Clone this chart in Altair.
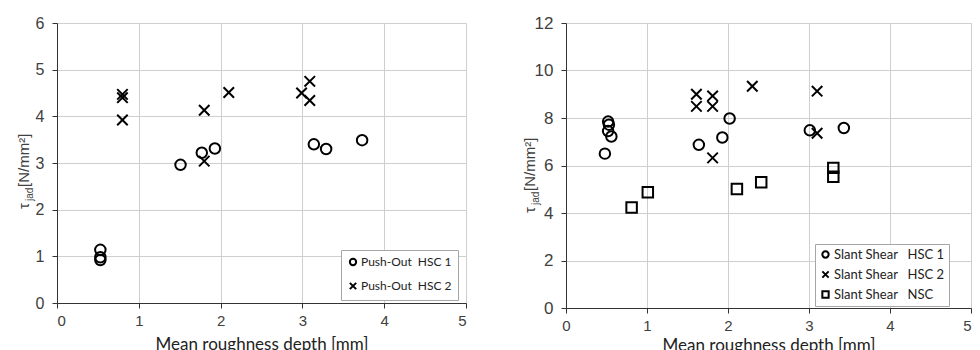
import altair as alt
import pandas as pd

# ---------------- data: left panel (Push-Out) ----------------
po1_x = [0.53, 0.53, 0.53, 1.51, 1.77, 1.93, 3.14, 3.29, 3.73]
po1_y = [1.14, 0.98, 0.92, 2.96, 3.22, 3.31, 3.40, 3.30, 3.49]
po2_x = [0.80, 0.80, 0.80, 1.80, 1.80, 2.10, 2.99, 3.09, 3.09]
po2_y = [4.47, 4.40, 3.92, 4.13, 3.04, 4.51, 4.50, 4.75, 4.34]
left_names = ["Push-Out\u00a0\u00a0HSC\u00a01", "Push-Out\u00a0\u00a0HSC\u00a02"]

# ---------------- data: right panel (Slant Shear) ----------------
ss1_x = [0.52, 0.53, 0.52, 0.56, 0.48, 1.64, 1.93, 2.02, 3.01, 3.43]
ss1_y = [7.85, 7.72, 7.45, 7.22, 6.50, 6.87, 7.18, 7.98, 7.48, 7.58]
ss2_x = [1.61, 1.61, 1.81, 1.81, 1.81, 2.30, 3.10, 3.10]
ss2_y = [9.00, 8.49, 8.93, 8.49, 6.32, 9.34, 9.13, 7.36]
nsc_x = [0.81, 1.01, 2.11, 2.41, 3.30, 3.30]
nsc_y = [4.23, 4.87, 5.01, 5.29, 5.90, 5.53]
pad = "\u00a0" * 8
right_names = ["Slant Shear\u00a0\u00a0\u00a0HSC\u00a01" + pad,
               "Slant Shear\u00a0\u00a0\u00a0HSC\u00a02" + pad,
               "Slant Shear\u00a0\u00a0\u00a0NSC" + pad]

x_ticks = [0, 1, 2, 3, 4, 5]
left_y_ticks = [0, 1, 2, 3, 4, 5, 6]
right_y_ticks = [0, 2, 4, 6, 8, 10, 12]

XSHAPE = "M-1,-1L1,1M-1,1L1,-1"

left_df = pd.DataFrame({
    "x": po1_x + po2_x,
    "y": po1_y + po2_y,
    "s": [left_names[0]] * len(po1_x) + [left_names[1]] * len(po2_x),
})
right_df = pd.DataFrame({
    "x": ss1_x + ss2_x + nsc_x,
    "y": ss1_y + ss2_y + nsc_y,
    "s": [right_names[0]] * len(ss1_x) + [right_names[1]] * len(ss2_x)
         + [right_names[2]] * len(nsc_x),
})

TICK_FONT = "Liberation Sans"
LABEL_COLOR = "#404040"
one = pd.DataFrame({"a": [0]})


def panel(df, names, shapes, yticks, w, h, lx, ly, lfs, lrow, lpad, ty, tx,
          xfs, yfs, tpad, flush_last):
    ymax = yticks[-1]
    extra = {}
    if flush_last:
        extra["labelAlign"] = alt.condition("datum.value == 5",
                                            alt.value("right"),
                                            alt.value("center"))
    pts = alt.Chart(df).mark_point(filled=False, color="black", strokeWidth=2,
                                   size=110, opacity=1).encode(
        x=alt.X("x:Q", scale=alt.Scale(domain=[0, 5], nice=False),
                axis=alt.Axis(values=x_ticks, title="Mean roughness depth [mm]",
                              titleFont="Lato", titleFontSize=17,
                              titleFontWeight="normal", titleColor="#222222",
                              titlePadding=tpad, labelFont=TICK_FONT,
                              labelFontSize=xfs, labelColor=LABEL_COLOR,
                              labelPadding=5, tickSize=5, tickColor="#333333",
                              domainColor="#333333", gridColor="#cfcfcf",
                              format="d", **extra)),
        y=alt.Y("y:Q", scale=alt.Scale(domain=[0, ymax], nice=False),
                axis=alt.Axis(values=yticks, title=None, labelFont=TICK_FONT,
                              labelFontSize=yfs, labelColor=LABEL_COLOR,
                              labelPadding=8, tickSize=5, tickColor="#333333",
                              domainColor="#333333", gridColor="#cfcfcf",
                              format="d")),
        shape=alt.Shape("s:N", scale=alt.Scale(domain=names, range=shapes),
                        legend=alt.Legend(orient="none", legendX=lx, legendY=ly,
                                          title=None, fillColor="white",
                                          strokeColor="#a6a6a6", padding=lpad,
                                          labelFont="Lato", labelFontSize=lfs,
                                          labelColor="#222222", symbolSize=40,
                                          symbolStrokeWidth=2,
                                          symbolStrokeColor="black",
                                          rowPadding=lrow, labelOffset=2,
                                          labelLimit=400)),
    )
    t1 = alt.Chart(one).mark_text(text="τ", angle=270, align="left",
                                  baseline="alphabetic", font=TICK_FONT,
                                  fontSize=15, color="#404040").encode(
        x=alt.value(tx), y=alt.value(ty))
    t2 = alt.Chart(one).mark_text(text="jad", angle=270, align="left",
                                  baseline="alphabetic", font=TICK_FONT,
                                  fontSize=10, color="#404040").encode(
        x=alt.value(tx + 4), y=alt.value(ty - 8))
    t3 = alt.Chart(one).mark_text(text="[N/mm²]", angle=270, align="left",
                                  baseline="alphabetic", font=TICK_FONT,
                                  fontSize=15, color="#404040").encode(
        x=alt.value(tx), y=alt.value(ty - 22))
    return alt.layer(pts, t1, t2, t3).properties(width=w, height=h)


left = panel(left_df, left_names, ["circle", XSHAPE], left_y_ticks, 409, 280,
             284, 227, 12, 8, 6, 186, -28, 15, 16, 8, False)
right = panel(right_df, right_names, ["circle", XSHAPE, "square"], right_y_ticks,
              405, 285, 249, 221, 13, 5, 4, 190, -31, 15, 17, 4, True)

chart = alt.hconcat(left, right, spacing=55).resolve_scale(
    shape="independent", x="independent", y="independent"
).resolve_legend(shape="independent").properties(
    padding={"left": 8, "top": 5, "right": 0, "bottom": 0}
).configure_view(strokeWidth=0).configure(background="white")

chart.save("out.html", embed_options={"renderer": "svg", "actions": False})
